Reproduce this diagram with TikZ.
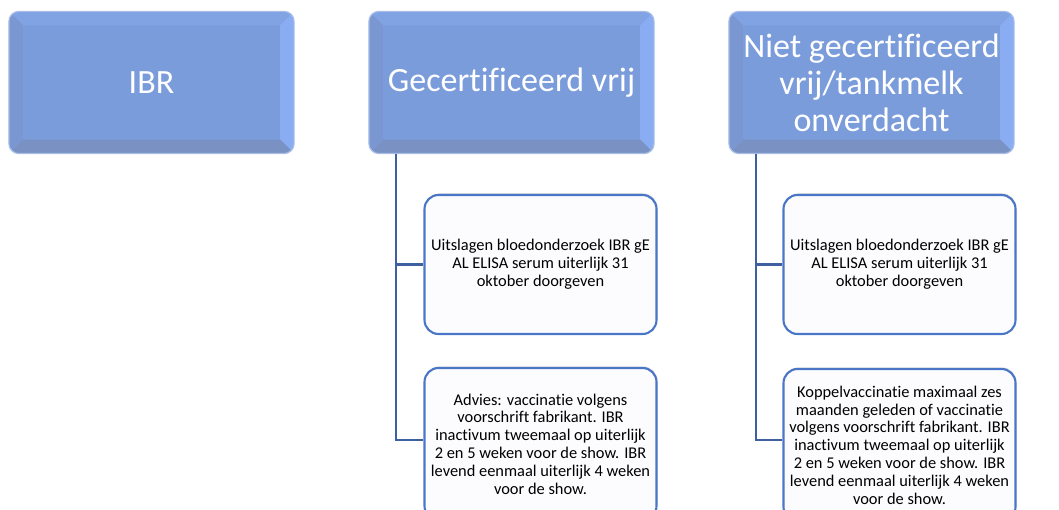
\documentclass[tikz,border=0pt]{standalone}
\usepackage{fontspec}
\setmainfont[Ligatures=NoCommon]{Carlito}
\usetikzlibrary{calc,shadows}
\definecolor{topfill}{HTML}{7B9CDB}
\definecolor{bevtop}{HTML}{81A2E3}
\definecolor{bevright}{HTML}{8AACF2}
\definecolor{bevbot}{HTML}{7A91C4}
\definecolor{bevleft}{HTML}{7A97D2}
\definecolor{tophalo}{HTML}{A8BEE6}
\definecolor{linkblue}{HTML}{3E5FA0}
\definecolor{childborder}{HTML}{4A76C8}
\definecolor{childfill}{HTML}{FCFCFF}
\tikzset{
  topbox/.style={rounded corners=10pt, minimum width=284pt, minimum height=141pt,
    fill=topfill, draw=tophalo, line width=1.2pt, text=white, align=center,
    font=\fontsize{34}{37}\selectfont, inner sep=0pt},
  toptext/.style={text=white, align=center, font=\fontsize{34}{37}\selectfont, inner sep=0pt},
  childbox/.style={rounded corners=14pt, minimum width=232pt, fill=childfill,
    draw=childborder, line width=2.1pt, align=center, text=black,
    font=\fontsize{16.4}{17.8}\selectfont, inner sep=0pt,
    drop shadow={shadow xshift=0.8pt, shadow yshift=1.5pt, opacity=0.35, fill=gray}},
  link/.style={draw=linkblue, line width=2.4pt},
}
\newcommand{\bevel}[1]{%
  \begin{scope}
    \clip[rounded corners=10pt] (#1.north west) rectangle (#1.south east);
    \fill[bevtop] (#1.north west) -- (#1.north east) -- ($(#1.north east)+(-14,14)$) -- ($(#1.north west)+(14,14)$) -- cycle;
    \fill[bevright] (#1.north east) -- (#1.south east) -- ($(#1.south east)+(-14,-14)$) -- ($(#1.north east)+(-14,14)$) -- cycle;
    \fill[bevbot] (#1.south east) -- (#1.south west) -- ($(#1.south west)+(14,-14)$) -- ($(#1.south east)+(-14,-14)$) -- cycle;
    \fill[bevleft] (#1.south west) -- (#1.north west) -- ($(#1.north west)+(14,14)$) -- ($(#1.south west)+(14,-14)$) -- cycle;
  \end{scope}
  \draw[tophalo, line width=1.2pt, rounded corners=10pt] (#1.north west) rectangle (#1.south east);
}
\begin{document}
\begin{tikzpicture}[x=1pt,y=-1pt]
\useasboundingbox (0,0) rectangle (1059,510);
\clip (0,0) rectangle (1059,510);
\fill[white] (0,0) rectangle (1059,510);

% top boxes (bevel drawn first, text on top)
\node[topbox] (a) at (151.5,82.5) {};
\node[topbox] (b) at (511.5,82.5) {};
\node[topbox] (c) at (871.5,82.5) {};
\bevel{a}\bevel{b}\bevel{c}
\node[toptext] (at) at (a.center) {IBR};
\node[toptext] (bt) at (b.center) {Gecertificeerd vrij};
\node[toptext] (ct) at (c.center) {Niet gecertificeerd\\vrij/tankmelk\\onverdacht};

% child boxes
\node[childbox, minimum height=139pt] (b1) at (540.5,264.5) {Uitslagen bloedonderzoek IBR gE\\AL ELISA serum uiterlijk 31\\oktober doorgeven};
\node[childbox, minimum height=152pt] (b2) at (540.5,444) {Advies: vaccinatie volgens\\voorschrift fabrikant. IBR\\inactivum tweemaal op uiterlijk\\2 en 5 weken voor de show. IBR\\levend eenmaal uiterlijk 4 weken\\voor de show.};
\node[childbox, minimum height=139pt] (c1) at (899.5,264.5) {Uitslagen bloedonderzoek IBR gE\\AL ELISA serum uiterlijk 31\\oktober doorgeven};
\node[childbox, minimum height=152pt] (c2) at (899.5,445) {Koppelvaccinatie maximaal zes\\maanden geleden of vaccinatie\\volgens voorschrift fabrikant. IBR\\inactivum tweemaal op uiterlijk\\2 en 5 weken voor de show. IBR\\levend eenmaal uiterlijk 4 weken\\voor de show.};

% connectors
\coordinate (bs) at ($(b.south west)+(27,0)$);
\coordinate (cs) at ($(c.south west)+(27,0)$);
\draw[link] (bs) |- (b1.west);
\draw[link] (bs) |- ($(b2.west)+(0,-4)$);
\draw[link] (cs) |- (c1.west);
\draw[link] (cs) |- ($(c2.west)+(0,-5)$);
\end{tikzpicture}
\end{document}
